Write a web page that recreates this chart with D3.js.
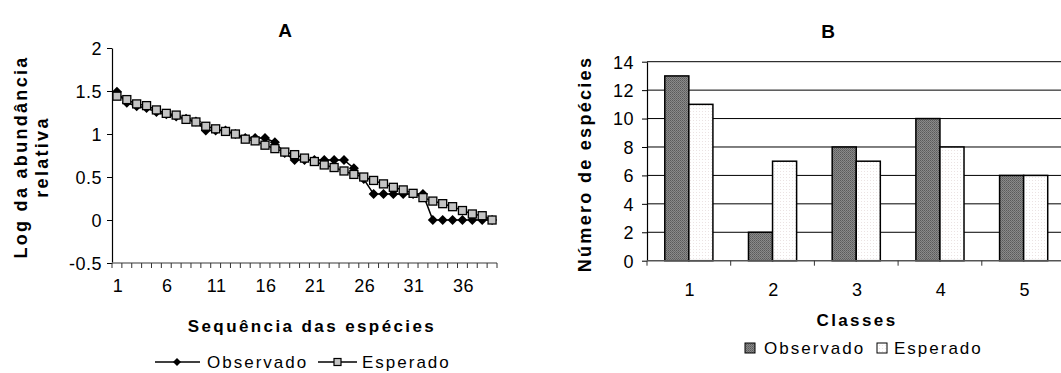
<!DOCTYPE html>
<html>
<head>
<meta charset="utf-8">
<script src="https://cdn.jsdelivr.net/npm/d3@7"></script>
<style>
  html, body { margin: 0; padding: 0; background: #fff; }
  svg { display: block; font-family: "Liberation Sans", Arial, sans-serif; }
  .tick-label { font-size: 18px; letter-spacing: 0.5px; fill: #000; }
  .title { font-size: 19px; font-weight: bold; fill: #000; }
  .axis-title { font-size: 17px; font-weight: bold; letter-spacing: 2.4px; fill: #000; }
  .axis-title-y { font-size: 18px; font-weight: bold; letter-spacing: 2.3px; fill: #000; }
  .legend { font-size: 17px; letter-spacing: 2px; fill: #000; }
</style>
</head>
<body>
<svg id="chart" width="1061" height="373"></svg>
<script>
// ---- Panel A: rank / log relative abundance ----
const species = [1,2,3,4,5,6,7,8,9,10,11,12,13,14,15,16,17,18,19,20,
                 21,22,23,24,25,26,27,28,29,30,31,32,33,34,35,36,37,38,39];
const speciesTickLabels = [1, 6, 11, 16, 21, 26, 31, 36];
const logObserved = [1.491, 1.362, 1.322, 1.301, 1.255, 1.230, 1.204, 1.176, 1.146, 1.041,
                     1.041, 1.041, 1.000, 0.954, 0.954, 0.954, 0.903, 0.778, 0.699, 0.699,
                     0.699, 0.699, 0.699, 0.699, 0.602, 0.477, 0.301, 0.301, 0.301, 0.301,
                     0.301, 0.301, 0, 0, 0, 0, 0, 0, 0];
const logExpected = [1.44, 1.40, 1.35, 1.33, 1.28, 1.24, 1.22, 1.17, 1.14, 1.09,
                     1.06, 1.03, 1.00, 0.94, 0.92, 0.87, 0.83, 0.79, 0.76, 0.72,
                     0.68, 0.64, 0.61, 0.57, 0.53, 0.50, 0.46, 0.42, 0.38, 0.35,
                     0.31, 0.26, 0.22, 0.19, 0.155, 0.11, 0.07, 0.05, 0.0];
const logTicks = [-0.5, 0, 0.5, 1, 1.5, 2];

// ---- Panel B: species per abundance class ----
const classes = [1, 2, 3, 4, 5];
const classObserved = [13, 2, 8, 10, 6];
const classExpected = [11, 7, 7, 8, 6];
const countTicks = [0, 2, 4, 6, 8, 10, 12, 14];

const seriesNames = ["Observado", "Esperado"];

const svg = d3.select("#chart");

// Fill patterns for the bars
const defs = svg.append("defs");
const hatch = defs.append("pattern").attr("id", "hatch")
  .attr("patternUnits", "userSpaceOnUse").attr("width", 2).attr("height", 2);
hatch.append("rect").attr("width", 2).attr("height", 2).attr("fill", "#8a8a8a");
hatch.append("rect").attr("x", 0).attr("y", 0).attr("width", 1).attr("height", 1).attr("fill", "#5a5a5a");
hatch.append("rect").attr("x", 1).attr("y", 1).attr("width", 1).attr("height", 1).attr("fill", "#6a6a6a");
const dots = defs.append("pattern").attr("id", "dots")
  .attr("patternUnits", "userSpaceOnUse").attr("width", 3).attr("height", 3);
dots.append("rect").attr("width", 3).attr("height", 3).attr("fill", "#fff");
dots.append("rect").attr("width", 1).attr("height", 1).attr("fill", "#ebe3e3");

/* ================= Panel A ================= */
const ax = d3.scaleBand().domain(species).range([112, 497]);
const ay = d3.scaleLinear().domain([-0.5, 2]).range([263, 48]);
const gA = svg.append("g");

// y axis
const yAxisA = d3.axisLeft(ay).tickValues(logTicks).tickSize(5).tickSizeOuter(0)
  .tickFormat(d => String(d));
const yA = gA.append("g").attr("transform", "translate(112,0)").call(yAxisA);
yA.select(".domain").attr("stroke", "#000").attr("stroke-width", 1.2);
yA.selectAll(".tick line").attr("stroke", "#000");
yA.selectAll(".tick text").attr("class", "tick-label").attr("x", -10).attr("dy", "0.35em");

// x axis: line, ticks at category boundaries, labels at centres
gA.append("line").attr("x1", 112).attr("x2", ax.range()[1])
  .attr("y1", ay(-0.5)).attr("y2", ay(-0.5)).attr("stroke", "#7a7a7a").attr("stroke-width", 1.5);
gA.selectAll("line.xtick").data(species.concat([null])).join("line")
  .attr("class", "xtick")
  .attr("x1", (d, i) => ax.range()[0] + i * ax.step())
  .attr("x2", (d, i) => ax.range()[0] + i * ax.step())
  .attr("y1", ay(-0.5)).attr("y2", ay(-0.5) + 5)
  .attr("stroke", "#333");
gA.selectAll("text.xlab").data(speciesTickLabels).join("text")
  .attr("class", "tick-label")
  .attr("x", d => ax(d) + ax.bandwidth() / 2 + 1)
  .attr("y", 292).attr("text-anchor", "middle").text(d => d);

// lines and markers
const lineA = d3.line().x((d, i) => ax(species[i]) + ax.bandwidth() / 2).y(d => ay(d));
gA.append("path").datum(logObserved).attr("d", lineA)
  .attr("fill", "none").attr("stroke", "#000").attr("stroke-width", 1.5);
gA.append("path").datum(logExpected).attr("d", lineA)
  .attr("fill", "none").attr("stroke", "#000").attr("stroke-width", 1.5);

const diamond = s => `M0,${-s} L${s},0 L0,${s} L${-s},0 Z`;
gA.selectAll("path.obs").data(logObserved).join("path")
  .attr("class", "obs")
  .attr("transform", (d, i) => `translate(${ax(species[i]) + ax.bandwidth() / 2},${ay(d)})`)
  .attr("d", diamond(5)).attr("fill", "#000");
gA.selectAll("rect.exp").data(logExpected).join("rect")
  .attr("class", "exp")
  .attr("x", (d, i) => ax(species[i]) + ax.bandwidth() / 2 - 4)
  .attr("y", d => ay(d) - 4)
  .attr("width", 8).attr("height", 8)
  .attr("fill", "#c4c4c4").attr("stroke", "#000").attr("stroke-width", 1.3);

// titles
gA.append("text").attr("class", "title").attr("x", 285).attr("y", 37)
  .attr("text-anchor", "middle").text("A");
gA.append("text").attr("class", "axis-title").attr("x", 312).attr("y", 332)
  .attr("text-anchor", "middle").text("Sequência das espécies");
const yTitleA = gA.append("text").attr("class", "axis-title-y")
  .attr("transform", "translate(0,157) rotate(-90)").attr("text-anchor", "middle");
yTitleA.append("tspan").attr("x", 0).attr("y", 27).text("Log da abundância");
yTitleA.append("tspan").attr("x", 0).attr("y", 48).text("relativa");

// legend A
const legA = gA.append("g").attr("transform", "translate(0,362)");
legA.append("line").attr("x1", 155).attr("x2", 200).attr("y1", 0).attr("y2", 0)
  .attr("stroke", "#000").attr("stroke-width", 1.5);
legA.append("path").attr("transform", "translate(177,0)").attr("d", diamond(4)).attr("fill", "#000");
legA.append("text").attr("class", "legend").attr("x", 207).attr("y", 6).text(seriesNames[0]);
legA.append("line").attr("x1", 318).attr("x2", 357).attr("y1", 0).attr("y2", 0)
  .attr("stroke", "#000").attr("stroke-width", 1.5);
legA.append("rect").attr("x", 334).attr("y", -3.5).attr("width", 7).attr("height", 7)
  .attr("fill", "#c4c4c4").attr("stroke", "#000").attr("stroke-width", 1.2);
legA.append("text").attr("class", "legend").attr("x", 362).attr("y", 6).text(seriesNames[1]);

/* ================= Panel B ================= */
const bx = d3.scaleBand().domain(classes).range([647, 1065.5]);
const by = d3.scaleLinear().domain([0, 14]).range([260.7, 61.7]);
const groupW = bx.bandwidth() * 0.575;
const bx1 = d3.scaleBand().domain(seriesNames).range([0, groupW]);
const gB = svg.append("g");

// gridlines
gB.selectAll("line.grid").data(countTicks.filter(d => d > 0)).join("line")
  .attr("class", "grid")
  .attr("x1", 647).attr("x2", 1065).attr("y1", d => by(d)).attr("y2", d => by(d))
  .attr("stroke", "#000").attr("stroke-width", 1);

// y axis
const yAxisB = d3.axisLeft(by).tickValues(countTicks).tickSize(5).tickSizeOuter(0);
const yB = gB.append("g").attr("transform", "translate(647,0)").call(yAxisB);
yB.select(".domain").attr("stroke", "#000").attr("stroke-width", 1.2);
yB.selectAll(".tick line").attr("stroke", "#000");
yB.selectAll(".tick text").attr("class", "tick-label").attr("x", -13).attr("dy", "0.35em");

// bars
const barData = classes.map((c, i) => [
  { cls: c, s: seriesNames[0], v: classObserved[i] },
  { cls: c, s: seriesNames[1], v: classExpected[i] }
]).flat();
gB.selectAll("rect.bar").data(barData).join("rect")
  .attr("class", "bar")
  .attr("x", d => bx(d.cls) + (bx.bandwidth() - groupW) / 2 + bx1(d.s))
  .attr("y", d => by(d.v))
  .attr("width", bx1.bandwidth())
  .attr("height", d => by(0) - by(d.v))
  .attr("fill", d => d.s === seriesNames[0] ? "url(#hatch)" : "url(#dots)")
  .attr("stroke", "#000").attr("stroke-width", 1.5);

// x axis
gB.append("line").attr("x1", 647).attr("x2", 1065).attr("y1", by(0)).attr("y2", by(0))
  .attr("stroke", "#555").attr("stroke-width", 1.5);
gB.selectAll("line.xtick").data(classes.concat([null])).join("line")
  .attr("class", "xtick")
  .attr("x1", (d, i) => bx.range()[0] + i * bx.step())
  .attr("x2", (d, i) => bx.range()[0] + i * bx.step())
  .attr("y1", by(0)).attr("y2", by(0) + 5).attr("stroke", "#333");
gB.selectAll("text.xlab").data(classes).join("text")
  .attr("class", "tick-label")
  .attr("x", d => bx(d) + bx.bandwidth() / 2 + 1)
  .attr("y", 296).attr("text-anchor", "middle").text(d => d);

// titles
gB.append("text").attr("class", "title").attr("x", 828).attr("y", 38)
  .attr("text-anchor", "middle").text("B");
gB.append("text").attr("class", "axis-title").attr("x", 857).attr("y", 326)
  .attr("text-anchor", "middle").text("Classes");
gB.append("text").attr("class", "axis-title-y")
  .attr("transform", "translate(591,164) rotate(-90)").attr("text-anchor", "middle")
  .text("Número de espécies");

// legend B
const legB = gB.append("g").attr("transform", "translate(0,348)");
legB.append("rect").attr("x", 745).attr("y", -5).attr("width", 10).attr("height", 10)
  .attr("fill", "url(#hatch)").attr("stroke", "#000").attr("stroke-width", 1);
legB.append("text").attr("class", "legend").attr("x", 764).attr("y", 6).text(seriesNames[0]);
legB.append("rect").attr("x", 877).attr("y", -5).attr("width", 10).attr("height", 10)
  .attr("fill", "url(#dots)").attr("stroke", "#000").attr("stroke-width", 1);
legB.append("text").attr("class", "legend").attr("x", 894).attr("y", 6).text(seriesNames[1]);
</script>
</body>
</html>
